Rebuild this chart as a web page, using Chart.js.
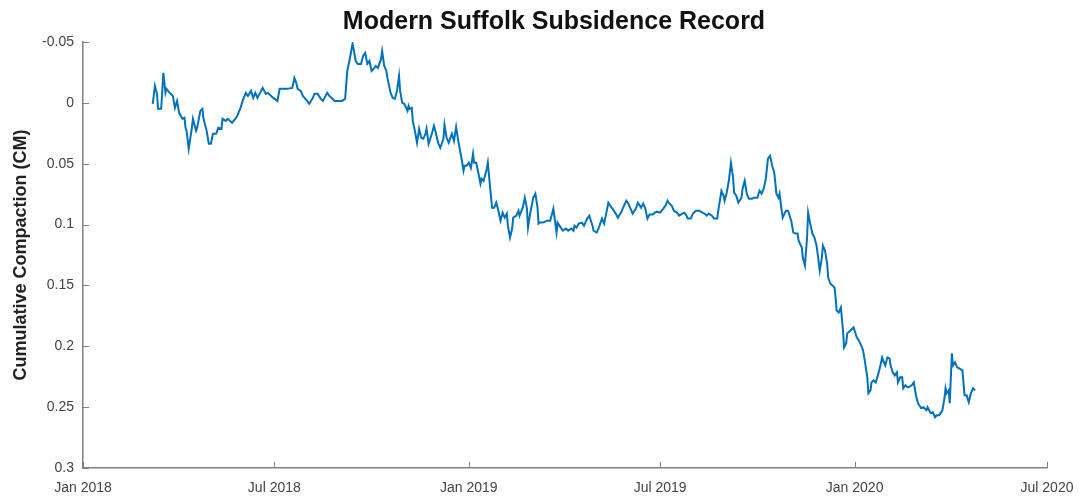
<!DOCTYPE html>
<html lang="en">
<head>
  <meta charset="UTF-8">
  <title>Modern Suffolk Subsidence Record</title>
  <style>
    html, body {
      margin: 0;
      padding: 0;
      background: #fff;
    }
    canvas {
      display: block;
    }
  </style>
</head>
<body>
  <canvas id="chart" width="1085" height="502"></canvas>

  <script src="https://cdn.jsdelivr.net/npm/chart.js"></script>
  <script>
    // days after 1 Jan 2018
    const days = [
      66, 68, 70, 71, 74, 76, 78, 79, 82, 85, 87, 89, 91, 94, 96, 97, 98, 100, 103, 104,
      107, 108, 111, 113, 114, 117, 119, 121, 123, 126, 128, 131, 132, 135, 137, 141, 144, 146, 149, 151,
      154, 156, 159,
      161, 163, 165, 167, 170, 173, 175, 178, 180, 184, 186, 189, 193, 198, 200, 202, 203, 206, 208, 212,
      214, 217, 219, 222, 225, 227, 231, 233, 236, 238, 241, 245, 248,
      250, 252, 255, 256, 258, 260, 263, 265, 267, 269, 271, 273, 275, 277, 279, 282, 283, 285, 287, 288,
      290, 291, 293, 295, 297, 299, 300, 302, 304, 307, 308, 309, 311, 312, 314, 316, 318, 320, 322, 324,
      325, 327, 330, 332, 334, 336, 338, 341, 342, 344, 346, 349, 351, 353, 355,
      358, 360, 361, 363, 365, 367, 369, 370, 372, 374, 376, 377, 379, 382, 383, 385, 387, 389, 391, 393,
      395, 397, 399, 401, 402, 404, 406, 407, 410, 412, 413, 416, 418, 420, 421, 423, 426, 428, 430, 431,
      432, 435, 437, 439, 442, 445, 446, 448, 449,
      452, 454, 457, 459, 462, 464, 465, 467, 469, 472, 474, 477, 479, 482, 483, 486, 488, 491, 493, 495,
      497, 500, 501, 504, 506, 509, 511, 514, 516, 518, 520, 523, 525, 528, 530, 532, 534, 536, 539, 541,
      543, 546,
      549, 551, 553, 554, 557, 559, 562, 564, 567, 569, 571, 572, 575, 577, 580, 583, 586, 588, 590, 592,
      595, 597, 600, 601, 604, 606, 607, 609, 611, 613, 615, 616, 618, 620, 623, 624, 626, 628, 630, 633,
      635, 638, 640, 642, 644, 646, 648, 650,
      652, 654, 656, 658, 659, 661, 662, 665, 667, 670, 672, 674, 676, 677, 680, 681, 683, 685, 686, 688,
      690, 692, 694, 695, 697, 699, 700, 702, 704, 705, 707, 709, 711, 712, 713, 715, 717, 719, 720, 722,
      723, 726, 729, 730, 732, 734,
      737, 738, 740, 742, 743, 745, 746, 748, 750, 752, 754, 756, 757, 759, 761, 763, 764, 766, 768, 770,
      771, 773, 775, 776, 778, 780, 781, 784, 786, 788, 790, 793, 795, 798, 799, 802, 804, 806, 808, 810,
      813, 815, 816, 817, 819, 820, 822, 823, 825, 827, 829, 832, 833, 834, 836, 838, 840, 842, 844
    ];

    // cumulative compaction in cm (axis is flipped, so sinking plots downwards)
    const compaction = [
      0.0008, -0.0139, -0.0074, 0.0049, 0.0049, -0.0246, -0.0082, -0.0115, -0.0082, -0.0057,
      0.0041, -0.0016, 0.0082, 0.0131, 0.0123, 0.0205, 0.0230, 0.0377, 0.0205, 0.0131,
      0.0230, 0.0205, 0.0066, 0.0049, 0.0131, 0.0230, 0.0336, 0.0336, 0.0254, 0.0254,
      0.0205, 0.0213, 0.0131, 0.0148, 0.0131, 0.0164, 0.0131, 0.0107, 0.0041, -0.0016,
      -0.0082, -0.0057, -0.0098,
      -0.0041, -0.0082, -0.0041, -0.0074, -0.0123, -0.0074, -0.0082, -0.0057, -0.0041, -0.0016,
      -0.0115, -0.0115, -0.0115, -0.0123, -0.0205, -0.0156, -0.0115, -0.0098, -0.0057, -0.0016,
      0.0008, -0.0033, -0.0074, -0.0074, -0.0033, -0.0016, -0.0082, -0.0057, -0.0033, -0.0016,
      -0.0016, -0.0016, -0.0033,
      -0.0262, -0.0344, -0.0484, -0.0443, -0.0344, -0.0320, -0.0320, -0.0385, -0.0410, -0.0320,
      -0.0344, -0.0262, -0.0279, -0.0303, -0.0287, -0.0361, -0.0426, -0.0303, -0.0262, -0.0205,
      -0.0123, -0.0082, -0.0041, -0.0033, -0.0098, -0.0221, -0.0098, 0, 0.0008, 0.0066,
      0.0025, 0.0049, 0.0041, 0.0148, 0.0230, 0.0328, 0.0213, 0.0287, 0.0295, 0.0254,
      0.0213, 0.0336, 0.0254, 0.0189, 0.0254, 0.0328, 0.0369, 0.0295, 0.0180, 0.0287,
      0.0328, 0.0254, 0.0312, 0.0197, 0.0312,
      0.0451, 0.0558, 0.0517, 0.0517, 0.0492, 0.0533, 0.0418, 0.0492, 0.0492, 0.0574,
      0.0664, 0.0623, 0.0640, 0.0541, 0.0492, 0.0681, 0.0861, 0.0861, 0.0820, 0.0886,
      0.0968, 0.0902, 0.0943, 0.0910, 0.1009, 0.1107, 0.1033, 0.0943, 0.0927, 0.0886,
      0.0927, 0.0861, 0.0779, 0.0869, 0.1025, 0.0910, 0.0779, 0.0746, 0.0861, 0.0992,
      0.0984, 0.0984, 0.0976, 0.0968, 0.0968, 0.0869, 0.0935, 0.1066, 0.0984,
      0.1025, 0.1050, 0.1033, 0.1050, 0.1033, 0.1050, 0.1009, 0.1025, 0.0992, 0.0984,
      0.1009, 0.0951, 0.0927, 0.1009, 0.1050, 0.1066, 0.1025, 0.0951, 0.0992, 0.0910,
      0.0820, 0.0861, 0.0869, 0.0910, 0.0943, 0.0902, 0.0861, 0.0804, 0.0828, 0.0869,
      0.0910, 0.0869, 0.0820, 0.0861, 0.0828, 0.0869, 0.0951, 0.0918, 0.0918, 0.0902,
      0.0894, 0.0902,
      0.0869, 0.0845, 0.0804, 0.0820, 0.0845, 0.0886, 0.0902, 0.0927, 0.0910, 0.0902,
      0.0927, 0.0951, 0.0951, 0.0910, 0.0886, 0.0886, 0.0902, 0.0910, 0.0927, 0.0910,
      0.0927, 0.0951, 0.0951, 0.0886, 0.0722, 0.0763, 0.0804, 0.0738, 0.0640, 0.0492,
      0.0615, 0.0738, 0.0763, 0.0820, 0.0779, 0.0705, 0.0640, 0.0746, 0.0787, 0.0787,
      0.0779, 0.0779, 0.0722, 0.0746, 0.0705, 0.0623, 0.0459, 0.0435,
      0.0517, 0.0574, 0.0746, 0.0779, 0.0746, 0.0886, 0.0943, 0.0886, 0.0886, 0.0968,
      0.1066, 0.1074, 0.1074, 0.1132, 0.1189, 0.1271, 0.1337, 0.1107, 0.0902, 0.0992,
      0.1074, 0.1107, 0.1173, 0.1238, 0.1378, 0.1271, 0.1173, 0.1214, 0.1320, 0.1435,
      0.1484, 0.1501, 0.1517, 0.1599, 0.1706, 0.1722, 0.1681, 0.1870, 0.2009, 0.1976,
      0.1894, 0.1870, 0.1845, 0.1870, 0.1927, 0.1952,
      0.2009, 0.2034, 0.2140, 0.2255, 0.2386, 0.2362, 0.2296, 0.2280, 0.2296, 0.2239,
      0.2173, 0.2091, 0.2116, 0.2157, 0.2091, 0.2099, 0.2157, 0.2214, 0.2239, 0.2214,
      0.2296, 0.2255, 0.2255, 0.2345, 0.2321, 0.2337, 0.2337, 0.2321, 0.2296, 0.2403,
      0.2468, 0.2509, 0.2501, 0.2526, 0.2501, 0.2550, 0.2542, 0.2583, 0.2567, 0.2567,
      0.2526, 0.2427, 0.2345, 0.2386, 0.2362, 0.2468, 0.2058, 0.2157, 0.2132, 0.2173,
      0.2181, 0.2198, 0.2304, 0.2403, 0.2403, 0.2460, 0.2386, 0.2345, 0.2362
    ];

    // x axis: tick every six months
    const xTickDays = [0, 181, 365, 546, 730, 912];
    const xTickLabels = ['Jan 2018', 'Jul 2018', 'Jan 2019', 'Jul 2019', 'Jan 2020', 'Jul 2020'];

    // y axis range (cm)
    const yMin = -0.05;
    const yMax = 0.3;
    const yStep = 0.05;

    const axisColor = '#808080';
    const textColor = '#444';
    const fontFamily = 'Arial, "Liberation Sans", Helvetica, sans-serif';

    // matlab-style tick marks that point into the plot
    const inwardTicks = {
      id: 'inwardTicks',
      afterDraw(chart) {
        const { ctx, chartArea, scales } = chart;
        const len = 6;
        ctx.save();
        ctx.strokeStyle = axisColor;
        ctx.lineWidth = 1;
        ctx.beginPath();
        scales.y.ticks.forEach(t => {
          const py = Math.round(scales.y.getPixelForValue(t.value)) + 0.5;
          ctx.moveTo(chartArea.left, py);
          ctx.lineTo(chartArea.left + len, py);
        });
        scales.x.ticks.forEach(t => {
          const px = Math.round(scales.x.getPixelForValue(t.value)) + 0.5;
          ctx.moveTo(px, chartArea.bottom);
          ctx.lineTo(px, chartArea.bottom - len);
        });
        ctx.stroke();
        ctx.restore();
      }
    };

    const points = days.map((d, i) => ({ x: d, y: compaction[i] }));

    new Chart(document.getElementById('chart'), {
      type: 'line',
      data: {
        datasets: [{
          data: points,
          borderColor: '#0072BD',
          borderWidth: 2,
          pointRadius: 0,
          tension: 0,
          fill: false
        }]
      },
      options: {
        responsive: false,
        animation: false,
        // left padding also nudges the full-width title a little off centre
        layout: { padding: { left: 23, right: 0 } },
        plugins: {
          legend: { display: false },
          tooltip: { enabled: false },
          title: {
            display: true,
            text: 'Modern Suffolk Subsidence Record',
            fullSize: true,
            color: '#111',
            font: { family: fontFamily, size: 25, weight: 'bold' },
            padding: { top: 7, bottom: 5 }
          }
        },
        scales: {
          x: {
            type: 'linear',
            min: xTickDays[0],
            max: xTickDays[xTickDays.length - 1],
            afterBuildTicks: scale => {
              scale.ticks = xTickDays.map(v => ({ value: v }));
            },
            afterFit: scale => {
              scale.height = 34;
              scale.paddingRight = 38;
            },
            ticks: {
              callback: (value, index) => xTickLabels[index],
              autoSkip: false,
              maxRotation: 0,
              padding: 12,
              color: textColor,
              font: { family: fontFamily, size: 14 }
            },
            grid: { display: false, drawTicks: false },
            border: { color: axisColor, width: 1.5 }
          },
          y: {
            reverse: true,
            min: yMin,
            max: yMax,
            afterFit: scale => {
              scale.width = 60;
            },
            ticks: {
              stepSize: yStep,
              padding: 9,
              color: textColor,
              font: { family: fontFamily, size: 14 },
              callback: value => String(parseFloat(value.toFixed(2)))
            },
            grid: { display: false, drawTicks: false },
            border: { color: axisColor, width: 1.5 },
            title: {
              display: true,
              text: 'Cumulative Compaction (CM)',
              color: '#222',
              font: { family: fontFamily, size: 18, weight: 'bold' },
              padding: { top: -13, bottom: 0 }
            }
          }
        }
      },
      plugins: [inwardTicks]
    });
  </script>
</body>
</html>
